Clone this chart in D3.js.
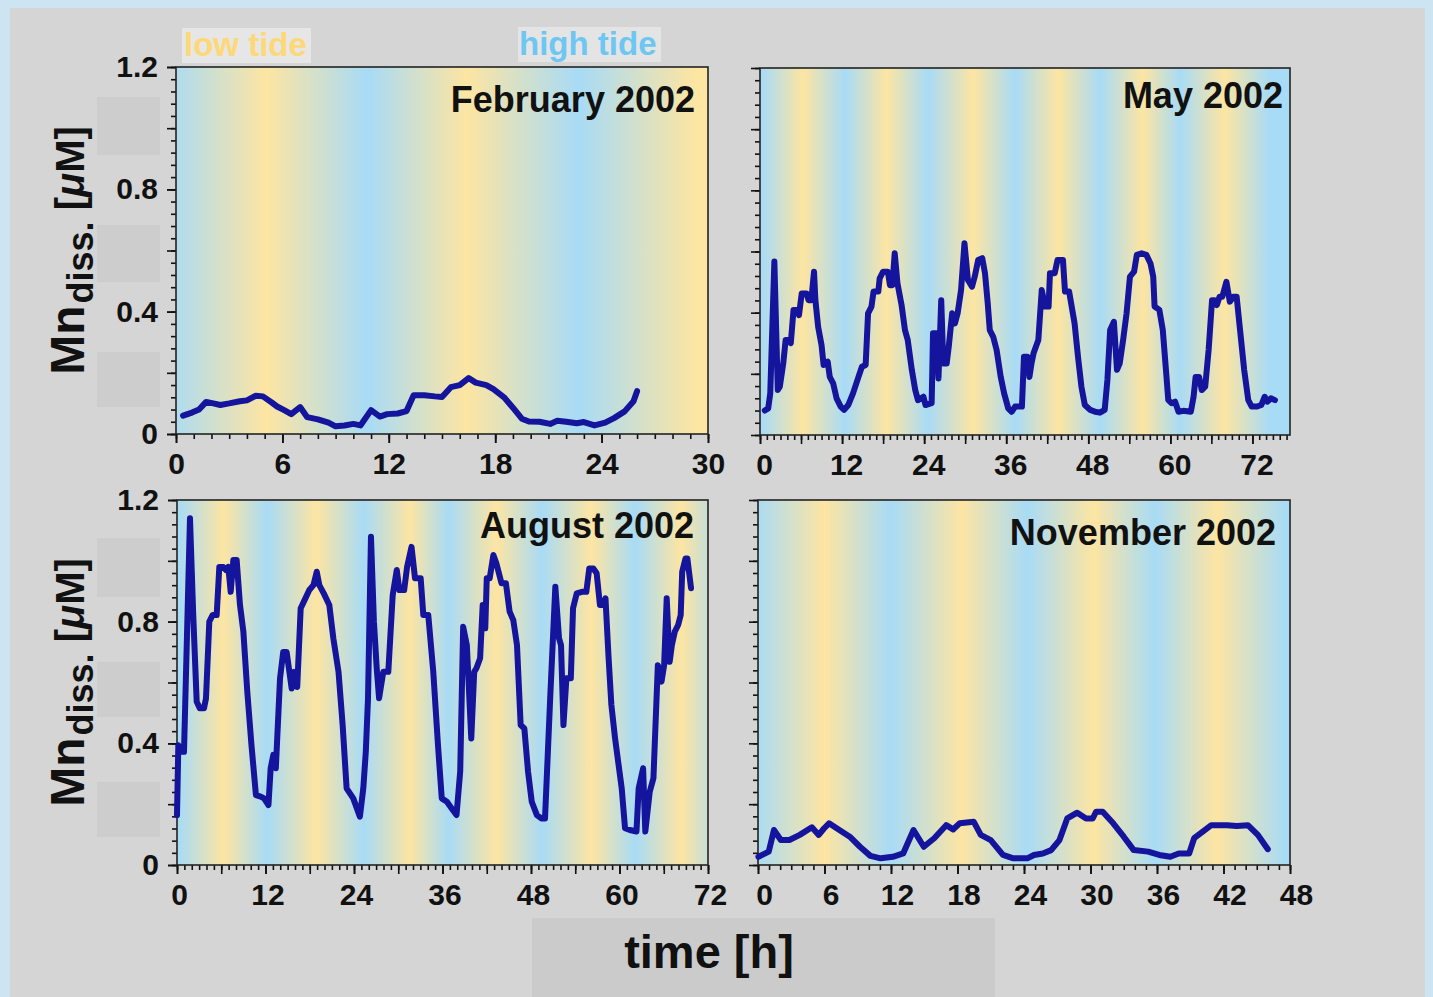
<!DOCTYPE html>
<html lang="en">
<head>
    <meta charset="UTF-8">
    <title>Mn diss. over tidal cycles 2002</title>
    <script src="https://d3js.org/d3.v7.min.js"></script>
    <style>
        body { margin: 0; background: #cde5f2; }
        text { font-family: "Liberation Sans", Arial, Helvetica, sans-serif; }
        .tick text { font-weight: bold; font-size: 30px; fill: #111; }
        .tick line { stroke: #111; stroke-width: 1.6px; }
        .domain { display: none; }
    </style>
</head>
<body>
<div id="chart"></div>
<script>
    // ---- data (time in h, Mn diss. in µM) ----
    var febData = [[0.4,0.06],[0.9,0.07],[1.3,0.08],[1.7,0.105],[2.1,0.1],[2.5,0.095],[3.0,0.1],[3.6,0.107],[4.0,0.11],[4.5,0.125],[4.9,0.123],[5.4,0.103],[5.7,0.09],[6.1,0.078],[6.5,0.065],[7.0,0.088],[7.4,0.055],[8.0,0.048],[8.6,0.037],[9.0,0.025],[9.5,0.028],[10.0,0.033],[10.4,0.028],[11.0,0.078],[11.5,0.057],[11.9,0.065],[12.5,0.067],[13.0,0.075],[13.4,0.127],[14.0,0.127],[14.6,0.123],[15.0,0.121],[15.5,0.153],[16.0,0.16],[16.5,0.183],[16.9,0.168],[17.5,0.16],[17.9,0.147],[18.5,0.12],[19.0,0.086],[19.5,0.05],[19.9,0.041],[20.5,0.04],[21.1,0.033],[21.5,0.043],[22.0,0.04],[22.6,0.035],[23.0,0.039],[23.6,0.028],[24.2,0.037],[24.7,0.052],[25.3,0.074],[25.8,0.107],[26.0,0.14]];

    var mayData = [[0.7,0.08],[1.2,0.087],[1.5,0.136],[2.1,0.567],[2.6,0.147],[2.9,0.158],[3.4,0.234],[3.75,0.311],[4.4,0.311],[4.5,0.3],[4.9,0.409],[5.5,0.409],[5.7,0.392],[6.1,0.463],[6.8,0.463],[7.1,0.441],[7.5,0.441],[7.9,0.534],[8.1,0.441],[8.5,0.354],[9.0,0.294],[9.3,0.229],[9.9,0.24],[10.2,0.19],[10.7,0.169],[11.2,0.12],[11.8,0.093],[12.3,0.082],[12.9,0.098],[13.6,0.136],[14.4,0.19],[14.9,0.223],[15.45,0.229],[15.8,0.398],[16.3,0.42],[16.6,0.469],[17.3,0.469],[17.5,0.512],[18.0,0.534],[18.7,0.534],[19.0,0.49],[19.35,0.49],[19.7,0.594],[20.1,0.496],[20.7,0.425],[21.2,0.343],[21.6,0.311],[22.2,0.213],[22.7,0.147],[23.1,0.114],[23.9,0.125],[24.2,0.098],[25.1,0.104],[25.3,0.333],[25.8,0.333],[26.1,0.185],[26.5,0.441],[26.8,0.234],[27.3,0.234],[27.6,0.289],[28.1,0.398],[28.5,0.365],[28.9,0.398],[29.4,0.474],[29.9,0.627],[30.4,0.507],[31.0,0.485],[31.4,0.518],[31.9,0.572],[32.5,0.578],[32.9,0.529],[33.3,0.431],[33.6,0.343],[34.1,0.321],[34.6,0.278],[35.2,0.19],[35.7,0.136],[36.3,0.087],[36.8,0.076],[37.3,0.093],[38.3,0.093],[38.6,0.256],[39.1,0.256],[39.4,0.19],[39.7,0.234],[40.0,0.267],[40.7,0.311],[41.2,0.474],[41.7,0.42],[42.2,0.42],[42.4,0.529],[43.1,0.529],[43.5,0.572],[44.3,0.572],[44.6,0.469],[45.2,0.469],[46.0,0.365],[46.5,0.256],[47.0,0.158],[47.5,0.098],[48.3,0.082],[49.0,0.076],[49.7,0.073],[50.4,0.082],[50.8,0.18],[51.2,0.343],[51.75,0.37],[52.2,0.213],[52.6,0.234],[53.1,0.311],[53.6,0.398],[54.1,0.518],[54.7,0.534],[55.1,0.589],[55.8,0.594],[56.5,0.589],[57.1,0.561],[57.5,0.518],[57.7,0.42],[58.4,0.409],[58.9,0.343],[59.4,0.202],[59.7,0.114],[60.2,0.104],[60.7,0.109],[61.2,0.076],[61.9,0.079],[63.0,0.076],[63.4,0.125],[63.7,0.19],[64.2,0.19],[64.6,0.147],[65.1,0.158],[65.6,0.278],[66.1,0.441],[66.5,0.441],[66.8,0.425],[67.2,0.452],[67.6,0.452],[68.2,0.501],[68.7,0.436],[69.2,0.452],[69.7,0.452],[70.2,0.343],[70.8,0.213],[71.4,0.114],[71.9,0.093],[72.7,0.093],[73.3,0.098],[73.8,0.125],[74.2,0.109],[74.7,0.12],[75.3,0.114]];

    var augData = [[0,0.164],[0.18,0.394],[0.5,0.372],[0.95,0.372],[1.76,1.14],[2.2,0.822],[2.67,0.537],[3.1,0.515],[3.66,0.515],[3.93,0.548],[4.38,0.8],[4.84,0.822],[5.38,0.822],[5.74,0.98],[6.28,0.98],[6.64,0.97],[6.96,0.98],[7.28,0.898],[7.64,1.003],[8.09,1.003],[8.54,0.855],[9.0,0.767],[9.53,0.57],[10.1,0.394],[10.7,0.23],[11.35,0.225],[11.8,0.219],[12.4,0.197],[12.7,0.318],[13.06,0.362],[13.4,0.318],[13.97,0.614],[14.4,0.7],[14.87,0.7],[15.55,0.58],[15.86,0.635],[16.3,0.585],[16.77,0.844],[17.2,0.866],[17.94,0.904],[18.5,0.92],[18.95,0.964],[19.3,0.92],[19.9,0.893],[20.65,0.855],[21.2,0.745],[21.9,0.635],[22.46,0.46],[23.0,0.252],[23.9,0.219],[24.8,0.159],[25.26,0.252],[25.6,0.372],[25.9,0.548],[26.3,1.079],[26.7,0.8],[27.08,0.647],[27.4,0.548],[27.97,0.635],[28.65,0.635],[29.25,0.888],[29.8,0.97],[30.15,0.904],[30.8,0.904],[31.2,0.98],[31.8,1.046],[32.27,0.943],[33.04,0.943],[33.4,0.822],[34.07,0.822],[34.75,0.635],[35.4,0.39],[35.9,0.219],[36.6,0.208],[37.25,0.186],[37.9,0.164],[38.4,0.307],[38.8,0.783],[39.3,0.723],[39.9,0.416],[40.3,0.635],[40.6,0.647],[41.1,0.68],[41.45,0.855],[41.8,0.778],[42.0,0.943],[42.4,0.943],[42.9,1.019],[43.3,0.992],[44.0,0.926],[44.6,0.926],[45.1,0.833],[45.6,0.805],[46.1,0.723],[46.6,0.46],[47.1,0.449],[47.6,0.307],[48.1,0.208],[48.8,0.164],[49.4,0.153],[49.9,0.153],[50.6,0.548],[51.3,0.915],[51.8,0.745],[52.07,0.723],[52.4,0.46],[52.8,0.614],[53.4,0.614],[53.7,0.844],[54.2,0.893],[54.9,0.898],[55.5,0.898],[55.9,0.975],[56.45,0.975],[56.9,0.959],[57.35,0.855],[57.8,0.855],[58.1,0.877],[58.5,0.69],[58.9,0.526],[59.4,0.416],[60.3,0.252],[60.75,0.121],[61.4,0.115],[62.3,0.11],[62.6,0.252],[63.2,0.318],[63.5,0.11],[64.1,0.241],[64.6,0.285],[65.2,0.657],[65.7,0.603],[66.05,0.657],[66.4,0.877],[66.8,0.668],[67.1,0.723],[67.5,0.767],[67.95,0.789],[68.3,0.822],[68.5,0.964],[68.95,1.008],[69.2,1.008],[69.7,0.91]];

    var novData = [[0.04,0.027],[0.97,0.044],[1.44,0.115],[2.06,0.082],[2.83,0.082],[3.77,0.099],[4.86,0.124],[5.48,0.099],[5.95,0.12],[6.41,0.137],[7.34,0.115],[8.28,0.093],[9.2,0.06],[10.14,0.03],[11.07,0.022],[12.16,0.027],[13.1,0.038],[14.03,0.115],[14.96,0.06],[15.9,0.088],[16.98,0.131],[17.6,0.117],[18.2,0.137],[19.47,0.142],[20.1,0.099],[21.0,0.082],[22.1,0.033],[23.04,0.022],[24.3,0.022],[24.9,0.033],[25.7,0.038],[26.45,0.049],[27.2,0.082],[27.9,0.153],[28.8,0.172],[29.6,0.153],[30.2,0.153],[30.5,0.175],[31.1,0.175],[32.05,0.137],[33.0,0.093],[33.9,0.049],[35.2,0.044],[36.2,0.033],[37.2,0.027],[37.96,0.038],[38.9,0.038],[39.35,0.088],[40.1,0.109],[40.9,0.131],[42.3,0.131],[43.2,0.128],[44.2,0.131],[45.1,0.099],[46.0,0.052]];

    // ---- tide times (h) used for the coloured background ----
    var febLow = [5.1, 16.4, 29.3],  febHigh = [-0.5, 10.8, 22.7];
    var mayLow = [6.3, 18.5, 31.2, 43.6, 56.0, 67.9], mayHigh = [0.2, 12.4, 24.6, 37.3, 49.7, 61.4, 74.5];
    var augLow = [6.3, 18.9, 31.6, 43.3, 56.2, 68.4], augHigh = [0.2, 12.2, 25.3, 36.8, 49.5, 62.1, 74];
    var novLow = [6.0, 18.4, 30.3, 41.4], novHigh = [-0.3, 12.0, 24.3, 35.8, 47.6];

    // ---- tick labels ----
    var yTickLabels = [0, 0.4, 0.8, 1.2];
    var febTicks = [0, 6, 12, 18, 24, 30];
    var mayTicks = [0, 12, 24, 36, 48, 60, 72];
    var augTicks = [0, 12, 24, 36, 48, 60, 72];
    var novTicks = [0, 6, 12, 18, 24, 30, 36, 42, 48];
    var titles = ["February 2002", "May 2002", "August 2002", "November 2002"];

    var lowColor = "#fde5a2", highColor = "#a8dbf6", lineColor = "#14149c";

    var W = 1433, H = 997;
    var svg = d3.select("#chart").append("svg")
        .attr("width", W).attr("height", H);
    var defs = svg.append("defs");

    // slide background
    svg.append("rect").attr("x", 10).attr("y", 8).attr("width", W - 18).attr("height", H - 8)
        .attr("fill", "#d5d5d5");

    // faint boxes left over from the slide
    [[97, 97, 63, 58], [97, 225, 63, 57], [97, 352, 63, 55],
     [97, 538, 63, 59], [97, 662, 63, 55], [97, 782, 63, 55]].forEach(function (b) {
        svg.append("rect").attr("x", b[0]).attr("y", b[1]).attr("width", b[2]).attr("height", b[3])
            .attr("fill", "#cdcdcd");
    });
    svg.append("rect").attr("x", 532).attr("y", 918).attr("width", 463).attr("height", 79)
        .attr("fill", "#cbcbcb");

    var panels = [
        {title: titles[0], data: febData, low: febLow, high: febHigh, xMax: 30, ticks: febTicks, left: 176, right: 708, top: 67, bottom: 434, yLabels: true, tx: 13, ty: 45, ldx: 0},
        {title: titles[1], data: mayData, low: mayLow, high: mayHigh, xMax: 77.5, ticks: mayTicks, left: 760, right: 1290, top: 68, bottom: 435, yLabels: false, tx: 7, ty: 40, ldx: 4},
        {title: titles[2], data: augData, low: augLow, high: augHigh, xMax: 72, ticks: augTicks, left: 177, right: 708, top: 500, bottom: 865, yLabels: true, tx: 14, ty: 38, ldx: 2},
        {title: titles[3], data: novData, low: novLow, high: novHigh, xMax: 48, ticks: novTicks, left: 758, right: 1290, top: 500, bottom: 865, yLabels: false, tx: 14, ty: 45, ldx: 6}
    ];

    panels.forEach(function (p, i) {
        var x = d3.scaleLinear().domain([0, p.xMax]).range([p.left, p.right]);
        var y = d3.scaleLinear().domain([0, 1.2]).range([p.bottom, p.top]);

        // tide gradient
        var events = p.low.map(function (t) { return {t: t, c: lowColor}; })
            .concat(p.high.map(function (t) { return {t: t, c: highColor}; }))
            .sort(function (a, b) { return a.t - b.t; });
        var t0 = events[0].t, t1 = events[events.length - 1].t;
        var grad = defs.append("linearGradient").attr("id", "tide" + i)
            .attr("gradientUnits", "userSpaceOnUse")
            .attr("x1", x(t0)).attr("x2", x(t1)).attr("y1", 0).attr("y2", 0);
        events.forEach(function (e) {
            grad.append("stop").attr("offset", (e.t - t0) / (t1 - t0)).attr("stop-color", e.c);
        });

        svg.append("rect")
            .attr("x", p.left).attr("y", p.top)
            .attr("width", p.right - p.left).attr("height", p.bottom - p.top)
            .attr("fill", "url(#tide" + i + ")");

        // x axis: minor every hour, major at labels
        svg.append("g").attr("transform", "translate(0," + p.bottom + ")")
            .call(d3.axisBottom(x).tickValues(d3.range(0, p.xMax + 0.001, 1)).tickSize(5).tickFormat(""));
        svg.append("g").attr("transform", "translate(0," + p.bottom + ")")
            .call(d3.axisBottom(x).tickValues(d3.range(0, p.xMax + 0.001, 6)).tickSize(9).tickFormat(""));
        svg.append("g").attr("transform", "translate(0," + p.bottom + ")")
            .call(d3.axisBottom(x).tickValues(p.ticks).tickSize(9).tickPadding(10))
            .selectAll(".tick text").attr("dx", p.ldx);

        // y axis
        svg.append("g").attr("transform", "translate(" + p.left + ",0)")
            .call(d3.axisLeft(y).tickValues(d3.range(0, 1.2001, 0.04)).tickSize(5).tickFormat(""));
        svg.append("g").attr("transform", "translate(" + p.left + ",0)")
            .call(d3.axisLeft(y).tickValues([0, 0.2, 0.4, 0.6, 0.8, 1.0, 1.2]).tickSize(9).tickFormat(""));
        if (p.yLabels) {
            svg.append("g").attr("transform", "translate(" + p.left + ",0)")
                .call(d3.axisLeft(y).tickValues(yTickLabels).tickSize(9).tickPadding(9)
                    .tickFormat(function (d) { return d === 0 ? "0" : d3.format(".1f")(d); }));
        }

        // frame
        svg.append("rect")
            .attr("x", p.left).attr("y", p.top)
            .attr("width", p.right - p.left).attr("height", p.bottom - p.top)
            .attr("fill", "none").attr("stroke", "#222").attr("stroke-width", 1.6);

        // series
        var line = d3.line().x(function (d) { return x(d[0]); }).y(function (d) { return y(d[1]); });
        svg.append("path").datum(p.data)
            .attr("d", line)
            .attr("fill", "none")
            .attr("stroke", lineColor)
            .attr("stroke-width", 6)
            .attr("stroke-linejoin", "round")
            .attr("stroke-linecap", "round");

        svg.append("text")
            .attr("x", p.right - p.tx).attr("y", p.top + p.ty)
            .attr("text-anchor", "end")
            .style("font-weight", "bold").style("font-size", "36px").style("fill", "#111")
            .text(p.title);

        if (p.yLabels) {
            var cy = (p.top + p.bottom) / 2;
            var lab = svg.append("text")
                .attr("transform", "translate(84," + cy + ") rotate(-90)")
                .attr("text-anchor", "middle")
                .style("font-weight", "bold").style("fill", "#111");
            lab.append("tspan").style("font-size", "48px").text("Mn");
            lab.append("tspan").style("font-size", "36px").attr("dx", 2).attr("dy", 9).text("diss.");
            lab.append("tspan").style("font-size", "40px").attr("dy", -9).text(" [");
            lab.append("tspan").style("font-size", "40px").style("font-style", "italic").text("μ");
            lab.append("tspan").style("font-size", "40px").text("M]");
        }
    });

    // tide legend
    svg.append("rect").attr("x", 182).attr("y", 28).attr("width", 129).attr("height", 35).attr("fill", "#e6e6e6");
    svg.append("text").attr("x", 184).attr("y", 56)
        .style("font-weight", "bold").style("font-size", "33px").style("fill", "#fdd878").text("low tide");
    svg.append("rect").attr("x", 518).attr("y", 27).attr("width", 143).attr("height", 35).attr("fill", "#e4e4e4");
    svg.append("text").attr("x", 519).attr("y", 55)
        .style("font-weight", "bold").style("font-size", "33px").style("fill", "#6ec7f2").text("high tide");

    svg.append("text").attr("x", 709).attr("y", 968)
        .attr("text-anchor", "middle")
        .style("font-weight", "bold").style("font-size", "47px").style("fill", "#111")
        .text("time [h]");
</script>
</body>
</html>
